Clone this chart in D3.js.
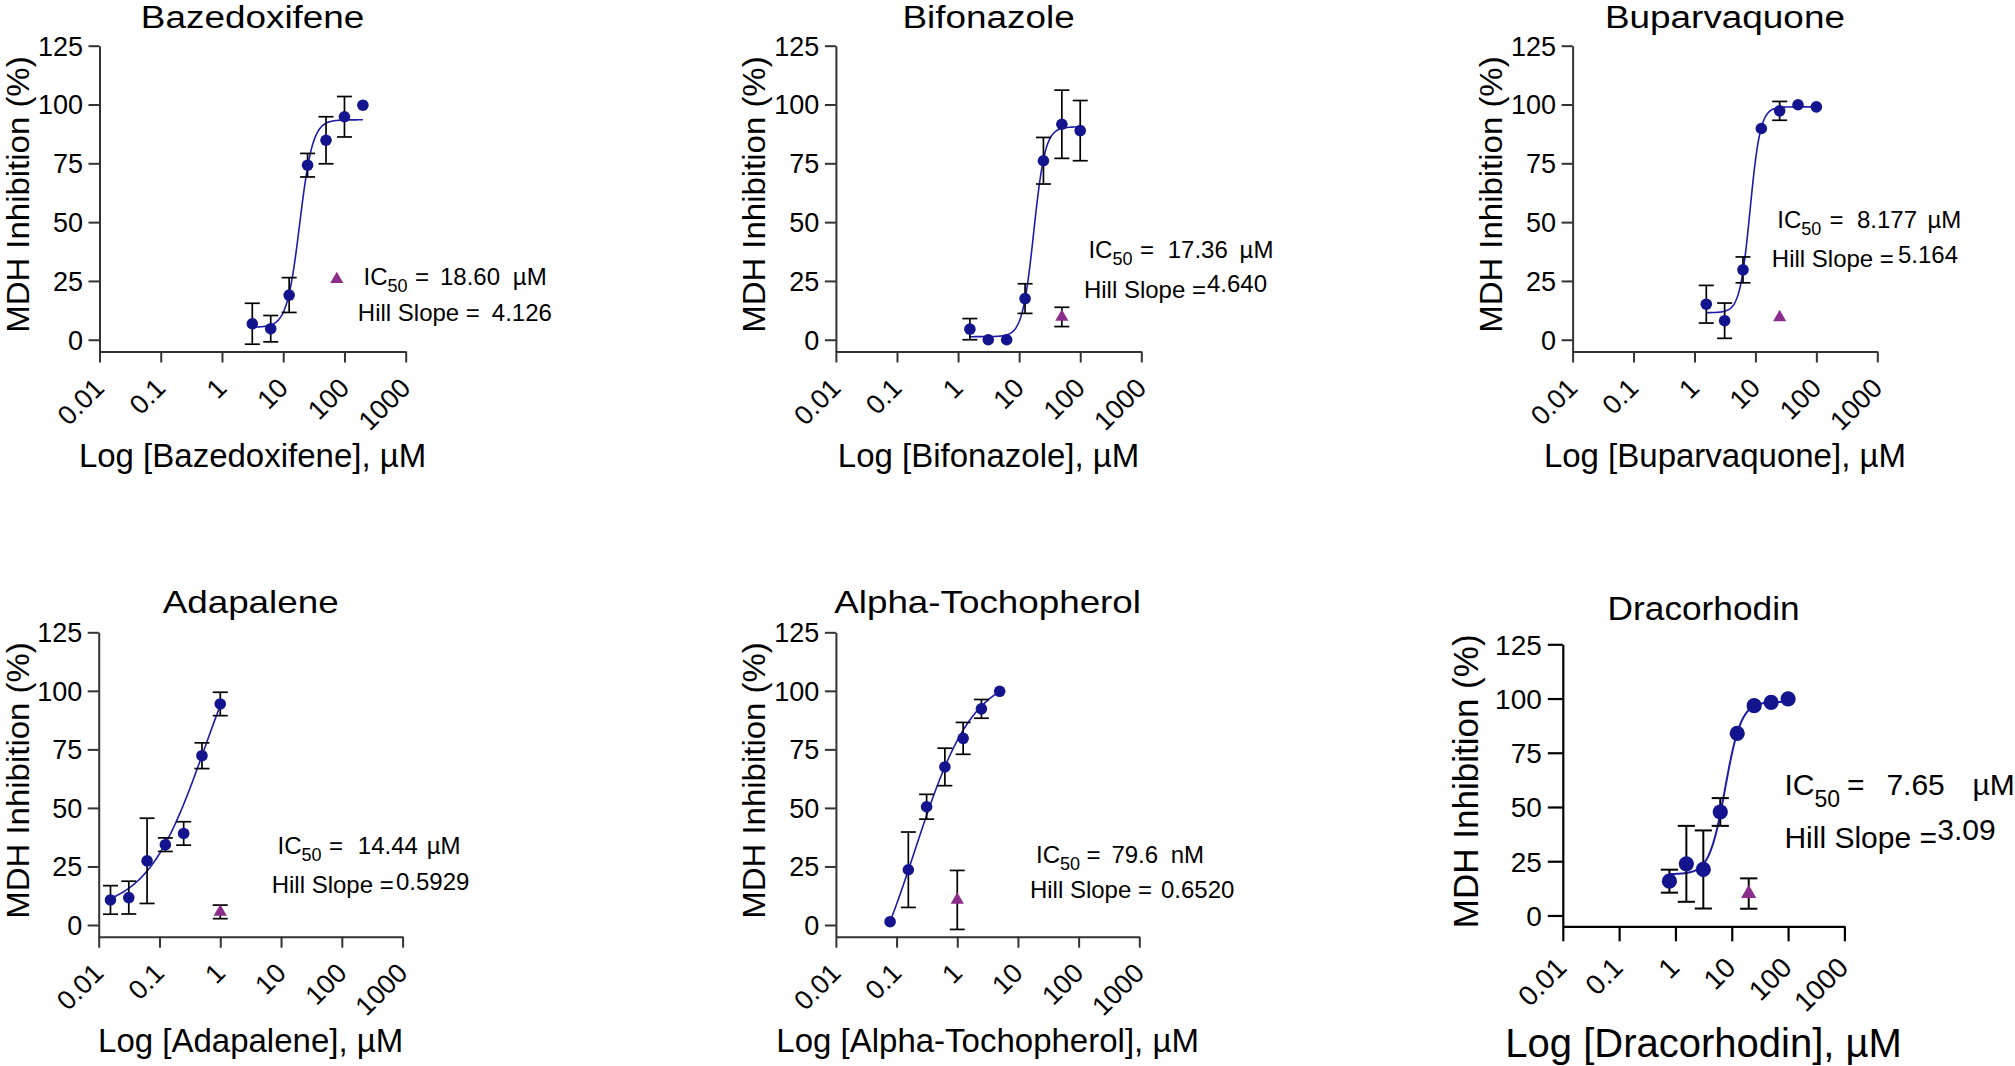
<!DOCTYPE html>
<html>
<head>
<meta charset="utf-8">
<script src="https://cdn.jsdelivr.net/npm/d3@7"></script>
<style>
  html, body { margin: 0; padding: 0; background: #ffffff; }
  svg { display: block; }
  text { font-family: "Liberation Sans", Arial, Helvetica, sans-serif; fill: #000; }
</style>
</head>
<body>
<svg id="chart" width="2015" height="1066"></svg>
<script>
// ---------------- DATA ----------------
const titles = ["Bazedoxifene", "Bifonazole", "Buparvaquone", "Adapalene", "Alpha-Tochopherol", "Dracorhodin"];
const xAxisLabels = ["Log [Bazedoxifene], \u00B5M", "Log [Bifonazole], \u00B5M", "Log [Buparvaquone], \u00B5M",
                     "Log [Adapalene], \u00B5M", "Log [Alpha-Tochopherol], \u00B5M", "Log [Dracorhodin], \u00B5M"];
const yAxisLabel = "MDH Inhibition (%)";
const xTickValues = [0.01, 0.1, 1, 10, 100, 1000];
const xTickLabels = ["0.01", "0.1", "1", "10", "100", "1000"];
const yTickValues = [0, 25, 50, 75, 100, 125];
const yTickLabels = ["0", "25", "50", "75", "100", "125"];

// concentrations (µM)
const concentrations = [
  [3.125, 6.25, 12.5, 25, 50, 100, 200],
  [1.5625, 3.125, 6.25, 12.5, 25, 50, 100],
  [1.5625, 3.125, 6.25, 12.5, 25, 50, 100],
  [0.015625, 0.03125, 0.0625, 0.125, 0.25, 0.5, 1],
  [0.078125, 0.15625, 0.3125, 0.625, 1.25, 2.5, 5],
  [0.78125, 1.5625, 3.125, 6.25, 12.5, 25, 50, 100]
];
// mean inhibition (%)
const meanInhibition = [
  [6.8, 4.7, 19.0, 74.2, 84.8, 94.8, 99.7],
  [4.5, 0, 0, 17.5, 76.1, 91.6, 88.9],
  [15.1, 8.1, 29.7, 89.8, 97.3, 99.9, 99.0],
  [10.7, 11.7, 27.4, 34.3, 39.1, 72.3, 94.4],
  [1.4, 23.6, 50.5, 67.5, 79.7, 92.3, 99.8],
  [15.8, 23.8, 21.2, 47.7, 83.9, 96.7, 98.2, 99.8]
];
// error (±)
const errorBars = [
  [8.7, 5.6, 7.4, 5.0, 10.0, 8.6, 0],
  [4.5, 0, 0, 6.3, 9.9, 14.5, 12.8],
  [8.0, 7.5, 5.5, 0, 4.0, 0, 0],
  [6.1, 7.0, 18.2, 2.9, 5.0, 5.5, 5.0],
  [0, 16.1, 5.3, 8.0, 6.8, 4.0, 0],
  [5.3, 17.5, 18.0, 6.4, 0, 0, 0, 0]
];
// control (triangle)
const controlConc = [75, 50, 25, 1, 1, 20];
const controlMean = [25.7, 9.7, 9.5, 5.6, 10.7, 10.1];
const controlErr = [0, 4.1, 0, 2.9, 12.6, 7.0];

// fitted curve parameters (4PL)
const fitBottom = [5.3, 1.3, 11.5, 6, -44, 19];
const fitTop = [93.5, 90.5, 99, 146, 107.6, 98.5];
const fitEC50 = [18.6, 17.36, 8.177, 0.562, 0.2, 7.65];
const fitHill = [4.126, 4.64, 5.164, 0.9, 0.9, 3.09];

// annotation texts
const ic50Values = ["18.60", "17.36", "8.177", "14.44", "79.6", "7.65"];
const ic50Units = ["\u00B5M", "\u00B5M", "\u00B5M", "\u00B5M", "nM", "\u00B5M"];
const hillValues = ["4.126", "4.640", "5.164", "0.5929", "0.6520", "3.09"];

// ---------------- LAYOUT ----------------
const layout = [
  {left: 99.5, right: 405.7, top: 45.7, bottom: 351.5, titleY: 28.3, titleFs: 31, titleSx: 1.19, tick: 11, sw: 2, axisColor: "#333", big: false,
   ic: [363.6, 285, 415, 440, 512.8], hill: [357.8, 320.7, 491.8, 320.7]},
  {left: 835.9, right: 1141.3, top: 45.7, bottom: 351.5, titleY: 28.3, titleFs: 31, titleSx: 1.19, tick: 11, sw: 2, axisColor: "#333", big: false,
   ic: [1088.4, 258.3, 1140, 1167.7, 1239.6], hill: [1083.9, 297.7, 1207, 291.7]},
  {left: 1572.6, right: 1877.3, top: 45.7, bottom: 351.5, titleY: 28.3, titleFs: 31, titleSx: 1.19, tick: 11, sw: 2, axisColor: "#333", big: false,
   ic: [1777.3, 228.3, 1829.5, 1857, 1927.5], hill: [1771.8, 266.7, 1898, 263.3]},
  {left: 98.7, right: 402.6, top: 632.3, bottom: 936.7, titleY: 613, titleFs: 32, titleSx: 1.15, tick: 11, sw: 2, axisColor: "#333", big: false,
   ic: [277.5, 854, 329, 357.8, 426.7], hill: [271.7, 893.3, 396, 890]},
  {left: 835.9, right: 1139.3, top: 632.3, bottom: 936.7, titleY: 613, titleFs: 32, titleSx: 1.15, tick: 11, sw: 2, axisColor: "#333", big: false,
   ic: [1036, 863.3, 1086.5, 1111.4, 1170.7], hill: [1029.9, 898.3, 1161, 898.3]},
  {left: 1562.8, right: 1844.4, top: 644.3, bottom: 926.3, titleY: 620, titleFs: 32.5, titleSx: 1.085, tick: 15, sw: 2.2, axisColor: "#000", big: true,
   ic: [1784.4, 795, 1847, 1886.4, 1972.5], hill: [1784.4, 848.3, 1937.3, 840]}
];

const dotColor = "#14148f";
const lineColor = "#1c1ca8";
const triColor = "#8b2d8b";

const svg = d3.select("#chart");
svg.append("rect").attr("width", 2015).attr("height", 1066).attr("fill", "#fff");

titles.forEach((title, i) => {
  const L = layout[i];
  const big = L.big;
  const g = svg.append("g");
  const x = d3.scaleLog().domain([0.01, 1000]).range([L.left, L.right]);
  const y = d3.scaleLinear().domain([-5, 125]).range([L.bottom, L.top]);
  const cx = (L.left + L.right) / 2;

  // title (slightly wide lettering as in the reference)
  g.append("text").attr("transform", `translate(${cx},${L.titleY}) scale(${L.titleSx},1)`)
    .attr("text-anchor", "middle")
    .style("font-size", L.titleFs + "px").text(title);

  // x axis
  const xa = g.append("g").attr("transform", `translate(0,${L.bottom})`)
    .call(d3.axisBottom(x).tickValues(xTickValues).tickFormat((d, j) => xTickLabels[j])
      .tickSize(L.tick).tickSizeOuter(0));
  xa.select(".domain").attr("stroke", L.axisColor).attr("stroke-width", L.sw);
  xa.selectAll(".tick line").attr("stroke", L.axisColor).attr("stroke-width", L.sw);
  xa.selectAll(".tick text")
    .attr("x", 0).attr("y", 0).attr("dy", 0)
    .attr("text-anchor", "end")
    .attr("transform", `translate(${big ? 5 : 6},${big ? 43 : 38}) rotate(-45)`)
    .style("font-size", big ? "28px" : "27px").style("font-family", "Liberation Sans, Arial, sans-serif")
    .attr("fill", "#000");

  // y axis
  const ya = g.append("g").attr("transform", `translate(${L.left},0)`)
    .call(d3.axisLeft(y).tickValues(yTickValues).tickFormat((d, j) => yTickLabels[j])
      .tickSize(L.tick).tickSizeOuter(0).tickPadding(big ? 6 : 5.5));
  ya.select(".domain").attr("stroke", L.axisColor).attr("stroke-width", L.sw);
  ya.selectAll(".tick line").attr("stroke", L.axisColor).attr("stroke-width", L.sw);
  ya.selectAll(".tick text").attr("dy", "0.35em")
    .style("font-size", big ? "28px" : "27px").style("font-family", "Liberation Sans, Arial, sans-serif")
    .attr("fill", "#000");

  // axis labels
  g.append("text").attr("x", cx).attr("y", big ? 1056.7 : L.bottom + 115.5)
    .attr("text-anchor", "middle").style("font-size", big ? "40px" : "33px").text(xAxisLabels[i]);
  const yFs = big ? 35 : 32;
  const ylx = big ? L.left - 85 : Math.max(L.left - 71, 0.905 * yFs + 0.3);
  const yly = (L.top + L.bottom) / 2 - 4;
  g.append("text").attr("transform", `translate(${ylx},${yly}) scale(1,${big ? 1 : 1.03}) rotate(-90)`)
    .attr("text-anchor", "middle").style("font-size", yFs + "px").text(yAxisLabel);

  // fitted curve
  const cmin = d3.min(concentrations[i]), cmax = d3.max(concentrations[i]);
  const lmin = Math.log10(cmin), lmax = Math.log10(cmax);
  const curve = d3.range(0, 201).map(k => {
    const c = Math.pow(10, lmin + (lmax - lmin) * k / 200);
    const v = fitBottom[i] + (fitTop[i] - fitBottom[i]) / (1 + Math.pow(fitEC50[i] / c, fitHill[i]));
    return [c, v];
  });
  g.append("path").datum(curve)
    .attr("d", d3.line().x(d => x(d[0])).y(d => y(d[1])))
    .attr("fill", "none").attr("stroke", lineColor).attr("stroke-width", big ? 2 : 1.6);

  // error bars
  const cap = big ? 8.6 : 7.5;
  const pts = concentrations[i].map((c, j) => ({c, m: meanInhibition[i][j], e: errorBars[i][j]}));
  const eb = g.append("g").attr("stroke", "#000").attr("stroke-width", big ? 2 : 1.7).attr("fill", "none");
  const drawBar = (px, m, e) => {
    eb.append("line").attr("x1", px).attr("x2", px).attr("y1", y(m - e)).attr("y2", y(m + e));
    eb.append("line").attr("x1", px - cap).attr("x2", px + cap).attr("y1", y(m - e)).attr("y2", y(m - e));
    eb.append("line").attr("x1", px - cap).attr("x2", px + cap).attr("y1", y(m + e)).attr("y2", y(m + e));
  };
  pts.filter(p => p.e > 0).forEach(p => drawBar(x(p.c), p.m, p.e));
  if (controlErr[i] > 0) drawBar(x(controlConc[i]), controlMean[i], controlErr[i]);

  // points
  g.selectAll("circle.pt").data(pts).enter().append("circle")
    .attr("cx", p => x(p.c)).attr("cy", p => y(p.m)).attr("r", big ? 7.6 : 5.8)
    .attr("fill", dotColor);

  // control triangle
  g.append("path")
    .attr("d", d3.symbol(d3.symbolTriangle, big ? 100 : 75)())
    .attr("transform", `translate(${x(controlConc[i])},${y(controlMean[i])})`)
    .attr("fill", triColor);

  // annotation
  const fs = big ? 30 : 24;
  const subFs = big ? 23 : 18;
  const subShift = big ? 11.5 : 7;
  const [icX, icY, eqX, valX, unitX] = L.ic;
  const t1 = g.append("text").attr("y", icY).style("font-size", fs + "px");
  t1.append("tspan").attr("x", icX).text("IC");
  t1.append("tspan").attr("dy", subShift).style("font-size", subFs + "px").text("50");
  t1.append("tspan").attr("x", eqX).attr("dy", -subShift).text("=");
  t1.append("tspan").attr("x", valX).text(ic50Values[i]);
  t1.append("tspan").attr("x", unitX).text(ic50Units[i]);

  const [hX, hY, hvX, hvY] = L.hill;
  g.append("text").attr("x", hX).attr("y", hY).style("font-size", fs + "px").text("Hill Slope =");
  g.append("text").attr("x", hvX).attr("y", hvY).style("font-size", fs + "px").text(hillValues[i]);
});
</script>
</body>
</html>
